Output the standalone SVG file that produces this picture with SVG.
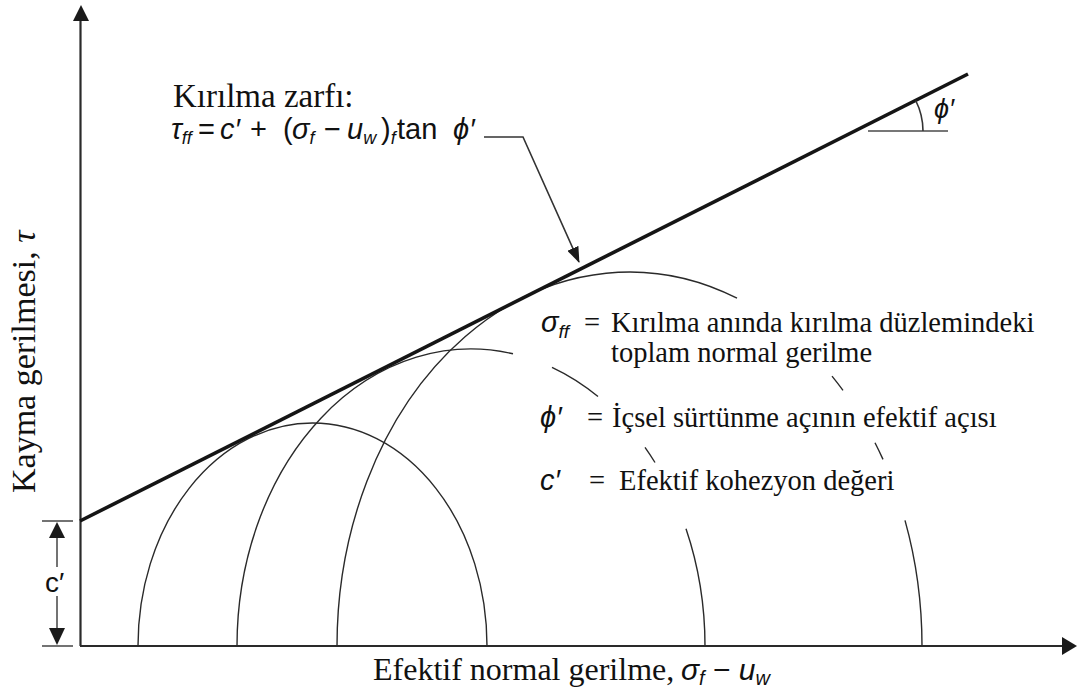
<svg xmlns="http://www.w3.org/2000/svg" width="1078" height="693" viewBox="0 0 1078 693">
<style>
.serif{font-family:"Liberation Serif","Times New Roman",serif;fill:#111}
.sans{font-family:"Liberation Sans",Arial,sans-serif;fill:#111}
.it{font-style:italic}
.ax{stroke:#2a2a2a;stroke-width:2.2;fill:none}
.arc{stroke:#2a2a2a;stroke-width:1.4;fill:none}
.env{stroke:#151515;stroke-width:3.6;fill:none}
.dim{stroke:#444;stroke-width:1.5;fill:none}
.head{fill:#1a1a1a}
</style>
<defs>
<marker id="ah" viewBox="0 0 16 12" refX="15" refY="6" markerWidth="16" markerHeight="12" markerUnits="userSpaceOnUse" orient="auto">
<path d="M0,0 L16,6 L0,12 Z" fill="#1a1a1a"/>
</marker>
</defs>
<rect width="1078" height="693" fill="#fff"/>

<g id="axes">
<line class="ax" x1="80.5" y1="646" x2="80.5" y2="20"/>
<polygon class="head" points="81,5 73,21 89,21"/>
<line class="ax" x1="80" y1="646" x2="1063" y2="646"/>
<polygon class="head" points="1077,646 1062,637 1062,655"/>
</g>

<g id="mohr-circles">
<path class="arc" d="M138,646 A174.5,223 0 0 1 487,646"/>
<path class="arc" d="M237,646 A234,297 0 0 1 513,353.8"/>
<path class="arc" d="M552,367.3 A234,297 0 0 1 598,396.5"/>
<path class="arc" d="M645,447.4 A234,297 0 0 1 655,462.5"/>
<path class="arc" d="M686,528.8 A234,297 0 0 1 705,646"/>
<path class="arc" d="M337,646 A292.5,374 0 0 1 737,298.2"/>
<path class="arc" d="M832,376.1 A292.5,374 0 0 1 843,390.4"/>
<path class="arc" d="M875,442.7 A292.5,374 0 0 1 883,459.4"/>
<path class="arc" d="M905,520.4 A292.5,374 0 0 1 922,646"/>
</g>

<g id="envelope">
<line class="env" x1="80" y1="521" x2="968" y2="74"/>
<line x1="868" y1="131" x2="948" y2="131" stroke="#777" stroke-width="2"/>
<path d="M915.7,100.5 A68,68 0 0 1 923,131" fill="none" stroke="#333" stroke-width="1.6"/>
<text class="sans it" x="934" y="118" font-size="27">ϕ′</text>
</g>

<g id="cohesion-dim">
<line class="dim" x1="42" y1="521" x2="73" y2="521"/>
<line class="dim" x1="42" y1="646" x2="73" y2="646"/>
<line class="dim" x1="57" y1="536" x2="57" y2="567"/>
<line class="dim" x1="57" y1="596" x2="57" y2="630"/>
<polygon class="head" points="57,522 49,538 65,538"/>
<polygon class="head" points="57,645 49,628 65,628"/>
<text class="sans" x="45" y="592" font-size="28">c′</text>
</g>

<g id="connectors">
<polyline points="484,137 523,137 579,262" fill="none" stroke="#333" stroke-width="1.6" marker-end="url(#ah)"/>
</g>

<g id="title">
<text class="serif" x="173" y="107" font-size="33">Kırılma zarfı:</text>
<text class="sans" y="139" font-size="29">
<tspan x="171" class="it">τ</tspan><tspan class="it" font-size="18" dy="5">ff</tspan><tspan x="198" dy="-5">=</tspan><tspan x="220" class="it">c′</tspan><tspan x="250">+</tspan><tspan x="283">(</tspan><tspan x="292" class="it">σ</tspan><tspan class="it" font-size="18" dy="5">f</tspan><tspan x="324" dy="-5">−</tspan><tspan x="347" class="it">u</tspan><tspan class="it" font-size="18" dy="5">w</tspan><tspan x="381" dy="-5">)</tspan><tspan class="it" font-size="18" dy="5">f</tspan><tspan x="397" dy="-5">tan</tspan><tspan x="453" class="it">ϕ′</tspan>
</text>
</g>

<g id="legend">
<text class="sans it" x="541" y="332" font-size="29">σ<tspan font-size="19" dy="6">ff</tspan></text>
<text class="serif" x="584" y="332" font-size="28.5">=</text>
<text class="serif" x="611" y="332" font-size="28.5">Kırılma anında kırılma düzlemindeki</text>
<text class="serif" x="611" y="362" font-size="28.5">toplam normal gerilme</text>
<text class="sans it" x="540" y="427" font-size="29">ϕ′</text>
<text class="serif" x="587" y="427" font-size="28.5">=</text>
<text class="serif" x="612" y="427" font-size="28.5">İçsel sürtünme açının efektif açısı</text>
<text class="sans it" x="540" y="490" font-size="29">c′</text>
<text class="serif" x="589" y="490" font-size="28.5">=</text>
<text class="serif" x="619" y="490" font-size="28.5">Efektif kohezyon değeri</text>
</g>

<g id="axis-labels">
<text class="serif" transform="translate(35,493) rotate(-90)" font-size="34">Kayma gerilmesi, <tspan class="it">τ</tspan></text>
<text class="serif" x="373" y="680" font-size="32">Efektif normal gerilme, </text>
<text class="sans it" x="681" y="680" font-size="30">σ<tspan font-size="20" dy="5">f</tspan><tspan dy="-5" font-style="normal"> − </tspan>u<tspan font-size="20" dy="5">w</tspan></text>
</g>
</svg>
